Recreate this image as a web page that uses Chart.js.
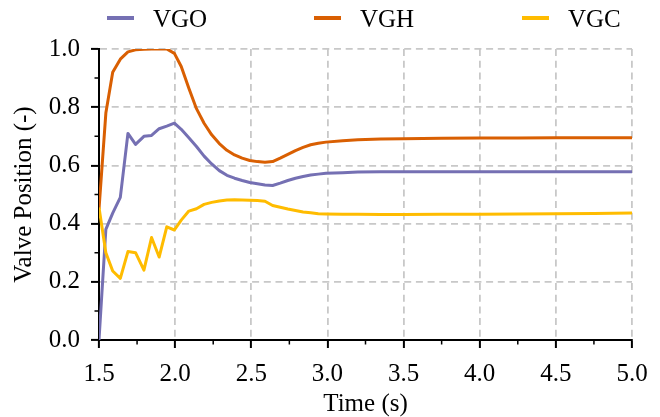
<!DOCTYPE html>
<html>
<head>
<meta charset="utf-8">
<script src="https://cdn.jsdelivr.net/npm/chart.js@4/dist/chart.umd.min.js"></script>
<style>
  html, body { margin: 0; padding: 0; background: #fff; }
  #wrap { position: relative; width: 660px; height: 417px; }
  .leg-line { position: absolute; top: 16px; width: 27px; height: 3.5px; }
  .leg-text { position: absolute; top: 6px; font: 25px/25px 'Liberation Serif', serif; color: #000; }
</style>
</head>
<body>
<div id="wrap">
  <canvas id="chart"></canvas>
  <div id="legend"></div>
</div>
<script>
// Valve positions during the transient.
const TIME_S = [1.50, 1.545, 1.59, 1.64, 1.69, 1.74, 1.795, 1.845, 1.895, 1.945, 1.995,
  2.04, 2.09, 2.14, 2.19, 2.24, 2.29, 2.34, 2.39, 2.44, 2.49, 2.54, 2.59, 2.64, 2.69,
  2.74, 2.79, 2.84, 2.89, 2.94, 2.99, 3.1, 3.2, 3.35, 3.5, 3.75, 4.0, 4.25, 4.5, 4.75, 5.0];

const VGO = [0.0, 0.38, 0.436, 0.49, 0.71, 0.672, 0.70, 0.703, 0.726, 0.735, 0.745,
  0.724, 0.695, 0.665, 0.632, 0.605, 0.582, 0.566, 0.556, 0.548, 0.541, 0.537, 0.533, 0.531, 0.539,
  0.548, 0.556, 0.562, 0.567, 0.570, 0.573, 0.575, 0.577, 0.578, 0.578, 0.578, 0.578, 0.578, 0.578, 0.578, 0.578];

const VGH = [0.45, 0.78, 0.92, 0.965, 0.99, 0.997, 0.999, 1.0, 1.0, 1.0, 0.985,
  0.94, 0.865, 0.795, 0.745, 0.705, 0.675, 0.652, 0.636, 0.625, 0.617, 0.613, 0.611, 0.613, 0.625,
  0.638, 0.651, 0.662, 0.671, 0.676, 0.680, 0.685, 0.688, 0.691, 0.692, 0.693, 0.694, 0.694, 0.695, 0.695, 0.695];

const VGC = [0.455, 0.30, 0.237, 0.212, 0.304, 0.30, 0.24, 0.352, 0.285, 0.389, 0.378,
  0.412, 0.443, 0.451, 0.466, 0.473, 0.478, 0.481, 0.482, 0.481, 0.480, 0.479, 0.477, 0.462, 0.456,
  0.45, 0.445, 0.440, 0.437, 0.434, 0.433, 0.432, 0.432, 0.431, 0.431, 0.432, 0.432, 0.433, 0.434, 0.435, 0.436];

const SERIES_NAMES = ['VGO', 'VGH', 'VGC'];
const SERIES_COLORS = ['#7570b3', '#d95f02', '#ffbc00'];

const X_MINOR = [1.75, 2.25, 2.75, 3.25, 3.75, 4.25, 4.75];
const Y_MINOR = [0.1, 0.3, 0.5, 0.7, 0.9];

const FONT = { family: "'Liberation Serif', 'Times New Roman', serif", size: 25 };
const GRID_COLOR = '#c8c8c8';

// legend in html, spaced like the original
const LEGEND_X = [107, 314, 522];
const legendEl = document.getElementById('legend');
SERIES_NAMES.forEach((name, i) => {
  const line = document.createElement('div');
  line.className = 'leg-line';
  line.style.left = LEGEND_X[i] + 'px';
  line.style.background = SERIES_COLORS[i];
  const txt = document.createElement('span');
  txt.className = 'leg-text';
  txt.style.left = (LEGEND_X[i] + 46) + 'px';
  txt.textContent = name;
  legendEl.appendChild(line);
  legendEl.appendChild(txt);
});

const toPoints = (vals) => vals.map((v, i) => ({ x: TIME_S[i], y: v }));

// minor ticks (matplotlib style), not supported natively
const minorTicksPlugin = {
  id: 'minorTicks',
  afterDraw(chart) {
    const { ctx } = chart;
    const { x, y } = chart.scales;
    ctx.save();
    ctx.strokeStyle = '#000';
    ctx.lineWidth = 1.5;
    ctx.beginPath();
    X_MINOR.forEach((v) => {
      const px = x.getPixelForValue(v);
      ctx.moveTo(px, x.top);
      ctx.lineTo(px, x.top + 4.5);
    });
    Y_MINOR.forEach((v) => {
      const py = y.getPixelForValue(v);
      ctx.moveTo(y.right, py);
      ctx.lineTo(y.right - 4.5, py);
    });
    ctx.stroke();
    ctx.restore();
  },
};

const datasets = [VGO, VGH, VGC].map((vals, i) => ({
  label: SERIES_NAMES[i],
  data: toPoints(vals),
  borderColor: SERIES_COLORS[i],
  backgroundColor: SERIES_COLORS[i],
  borderWidth: 3,
  pointRadius: 0,
  tension: 0,
  borderJoinStyle: 'round',
  order: 2 - i,
}));

function axisGrid() {
  return {
    color: GRID_COLOR,
    lineWidth: 1.8,
    drawTicks: true,
    tickColor: '#000',
    tickWidth: 2,
    tickLength: 8,
    tickBorderDash: [],
  };
}

new Chart(document.getElementById('chart'), {
  type: 'line',
  data: { datasets },
  options: {
    responsive: true,
    maintainAspectRatio: false,
    animation: false,
    layout: { padding: { top: 49, right: 28, left: 0, bottom: 0 } },
    plugins: { legend: { display: false }, tooltip: { enabled: false } },
    scales: {
      x: {
        type: 'linear',
        min: 1.5,
        max: 5.0,
        grid: axisGrid(),
        border: { display: true, color: '#000', width: 2, dash: [7, 4.7] },
        ticks: {
          stepSize: 0.5,
          color: '#000',
          font: FONT,
          padding: 11,
          maxRotation: 0,
          callback: (v) => v.toFixed(1),
        },
        title: { display: true, text: 'Time (s)', color: '#000', font: { ...FONT, lineHeight: 1 }, padding: 0 },
        afterFit: (s) => { s.height = 77; },
      },
      y: {
        min: 0,
        max: 1,
        grid: axisGrid(),
        border: { display: true, color: '#000', width: 2, dash: [7, 4.7] },
        ticks: {
          stepSize: 0.2,
          color: '#000',
          font: FONT,
          padding: 11,
          callback: (v) => v.toFixed(1),
        },
        title: { display: true, text: 'Valve Position (-)', color: '#000', font: { ...FONT, lineHeight: 1 }, padding: { top: 12, bottom: 0 } },
        afterFit: (s) => { s.width = 99; },
      },
    },
  },
  plugins: [minorTicksPlugin],
});
</script>
</body>
</html>
